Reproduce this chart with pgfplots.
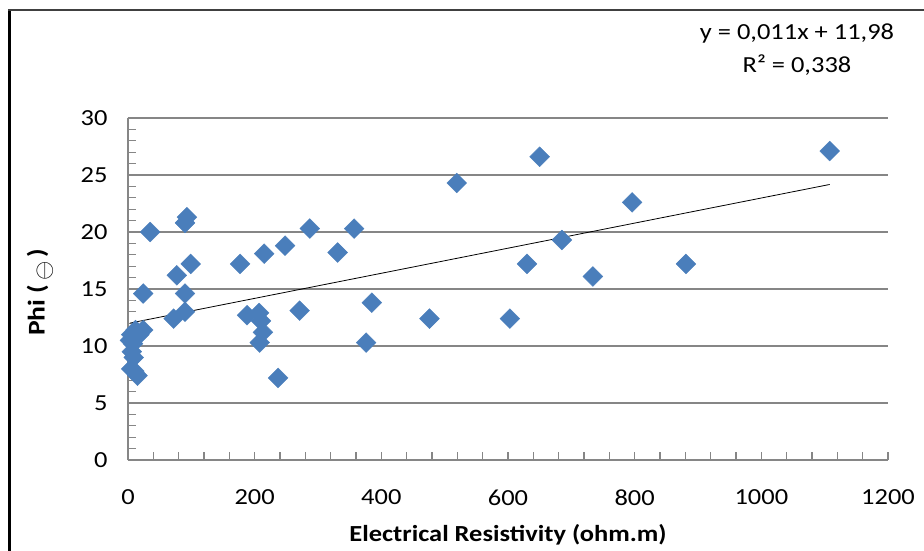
\documentclass[border=0pt]{standalone}
\usepackage{pgfplots}
\pgfplotsset{compat=1.18}
\usepackage{fontspec}
\setmainfont{Carlito}[FakeStretch=1.15]
\definecolor{mk}{HTML}{4A7EBB}
\definecolor{gr}{HTML}{868686}
\begin{document}
\begin{tikzpicture}[x=1pt,y=1pt]
\useasboundingbox (0,0) rectangle (924,550);
\begin{scope}
\clip (0,0) rectangle (924,550);
\draw[line width=3pt, black] (9.5,-10) -- (9.5,540.5);
\draw[line width=2pt, black!75] (8,539.5) -- (940,539.5);
\end{scope}
\begin{axis}[at={(128pt,90pt)}, anchor=south west, scale only axis,
  width=760pt, height=342pt,
  xmin=0, xmax=1200, ymin=0, ymax=30,
  xtick={0,200,...,1200}, ytick={0,5,...,30},
  minor x tick num=4, minor y tick num=4,
  axis lines=left, axis line style={gr, line width=1.5pt, -},
  tick align=inside, major tick length=8pt, minor tick length=8pt,
  tick style={gr, line width=1.2pt},
  ymajorgrids, grid style={gr, line width=1.5pt},
  /pgf/number format/assume math mode=true,
  /pgf/number format/1000 sep={},
  scaled ticks=false,
  tick label style={font=\fontsize{23}{27}\selectfont},
  xticklabel style={yshift=-26pt},
  yticklabel style={xshift=-17pt},
  xlabel={\textbf{Electrical Resistivity (ohm.m)}},
  xlabel style={font=\fontsize{23}{27}\selectfont, at={(axis description cs:0.5,0)}, anchor=center, yshift=-75pt},
  ylabel={\textbf{Phi (\,\raisebox{-0.55ex}{$\ominus$}\,)}},
  ylabel style={font=\fontsize{24}{28}\selectfont, at={(axis description cs:-0.1158,0.49)}, anchor=center},
  clip=false,
]
\addplot[only marks, mark=square*, mark size=7pt, mark options={rotate=45, fill=mk, draw=mk}] coordinates {
(5,11.0) (12,11.4) (24,11.4) (3,10.5) (8,10.2) (6,9.5) (9,9.0) (5,8.0) (10,7.8) (15,7.4) (18,11.0)
(35,20.0) (90,20.8) (93,21.3) (99,17.2) (77,16.2) (24,14.6) (90,14.6) (72,12.4) (90,13.0)
(177,17.2) (215,18.1) (248,18.8) (287,20.3)
(188,12.7) (207,12.9) (210,12.2) (213,11.2) (208,10.3)
(237,7.2) (271,13.1) (331,18.2) (357,20.3) (385,13.8) (376,10.3)
(476,12.4) (519,24.3) (650,26.6) (603,12.4) (630,17.2) (685,19.3) (734,16.1) (796,22.6) (881,17.2) (1108,27.1)
};
\addplot[black, line width=0.8pt] coordinates {(3,12.01) (1108,24.17)};
\end{axis}
\node[font=\fontsize{23}{27}\selectfont] at (797,517) {y = 0,011x + 11,98};
\node[font=\fontsize{23}{27}\selectfont] at (797,485) {R² = 0,338};
\end{tikzpicture}
\end{document}
